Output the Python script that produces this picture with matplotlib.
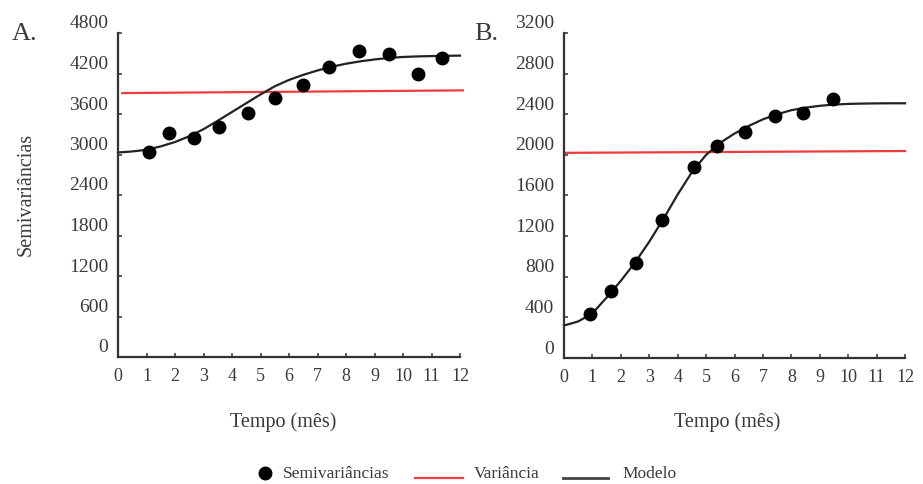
import matplotlib
matplotlib.use("Agg")
import matplotlib.pyplot as plt
import matplotlib.transforms as mtransforms
from matplotlib.lines import Line2D

plt.rcParams['font.family'] = ['Liberation Serif', 'DejaVu Serif']

TXT = '#3a3a3a'
AXC = '#333333'
RED = '#ee3b3b'

# --- data ---
meses_a = [1.08, 1.78, 2.65, 3.54, 4.57, 5.50, 6.50, 7.41, 8.47, 9.52, 10.52, 11.36]
semivar_a = [3030, 3320, 3250, 3410, 3610, 3835, 4035, 4290, 4540, 4490, 4200, 4430]
var_a_x = [0.15, 12.1]
var_a_y = [3910, 3950]

meses_b = [0.93, 1.67, 2.55, 3.44, 4.57, 5.39, 6.38, 7.41, 8.40, 9.47]
semivar_b = [430, 663, 938, 1360, 1880, 2088, 2228, 2382, 2408, 2550]
var_b_x = [0.0, 12.0]
var_b_y = [2020, 2038]

# model curves, read every half month
modelo_x = [0, 0.5, 1, 1.5, 2, 2.5, 3, 3.5, 4, 4.5, 5, 5.5, 6,
            6.5, 7, 7.5, 8, 8.5, 9, 9.5, 10, 10.5, 11, 11.5, 12]
modelo_a = [3030, 3045, 3070, 3120, 3185, 3270, 3375, 3500, 3630, 3760, 3890, 4010, 4105,
            4180, 4245, 4300, 4345, 4380, 4408, 4430, 4445, 4453, 4458, 4462, 4465]
modelo_b = [320, 360, 440, 595, 760, 940, 1145, 1370, 1610, 1830, 2000, 2120, 2210,
            2285, 2350, 2400, 2440, 2465, 2483, 2495, 2502, 2505, 2507, 2508, 2508]

yticks_a = [0, 600, 1200, 1800, 2400, 3000, 3600, 4200, 4800]
yticks_b = [0, 400, 800, 1200, 1600, 2000, 2400, 2800, 3200]
xticks = list(range(0, 13))

W, H = 923, 484
fig = plt.figure(figsize=(W / 100, H / 100), dpi=100)


def fx(px):
    return px / W


def fy(py):
    return 1 - py / H


def make_ax(x0, ppu, ybot, ytop, ymax):
    ax = fig.add_axes([fx(x0), fy(ybot), ppu * 12.2 / W, (ybot - ytop) / H])
    ax.set_xlim(0, 12.2)
    ax.set_ylim(0, ymax)
    for s in ['top', 'right']:
        ax.spines[s].set_visible(False)
    for s in ['left', 'bottom']:
        ax.spines[s].set_color(AXC)
        ax.spines[s].set_linewidth(1.6)
    ax.spines['bottom'].set_bounds(0, 12)
    ax.tick_params(direction='in', length=3, width=1.1, color=AXC, labelcolor=TXT)
    ax.tick_params(axis='x', pad=8, labelsize=13)
    ax.tick_params(axis='y', pad=7, labelsize=14)
    ax.set_xticks(xticks)
    return ax


def draw(ax, mx, sv, vx, vy, yt):
    ax.plot(modelo_x, mx, color='#222222', lw=1.6, zorder=2, clip_on=False,
            solid_joinstyle='round')
    ax.plot(vx, vy, color=RED, lw=1.6, zorder=1, clip_on=False)
    ax.plot(sv[0], sv[1], 'o', color='black', ms=9, zorder=3, clip_on=False)
    ax.set_yticks(yt)
    # the reference prints the y labels a little above their ticks
    off = mtransforms.ScaledTranslation(0, 11 / 100, fig.dpi_scale_trans)
    for lab in ax.get_yticklabels():
        lab.set_transform(lab.get_transform() + off)


ax1 = make_ax(118, 28.5, 357, 33, 4800)
draw(ax1, modelo_a, (meses_a, semivar_a), var_a_x, var_a_y, yticks_a)

ax2 = make_ax(564, 28.42, 358, 33, 3200)
draw(ax2, modelo_b, (meses_b, semivar_b), var_b_x, var_b_y, yticks_b)

# panel letters and axis titles
fig.text(fx(25), fy(34), 'A.', fontsize=19, color=TXT, ha='center', va='center')
fig.text(fx(486), fy(34), 'B.', fontsize=19, color=TXT, ha='center', va='center')
fig.text(fx(26), fy(194), 'Semivariâncias', fontsize=14.5, color=TXT,
         rotation=90, ha='center', va='center')
fig.text(fx(283.5), fy(422), 'Tempo (mês)', fontsize=14.5, color=TXT, ha='center', va='center')
fig.text(fx(727), fy(422), 'Tempo (mês)', fontsize=14.5, color=TXT, ha='center', va='center')

# legend
fig.add_artist(Line2D([fx(265)], [fy(473)], marker='o', color='black', ms=9,
                      transform=fig.transFigure))
fig.text(fx(283), fy(474), 'Semivariâncias', fontsize=12.5, color=TXT, va='center')
fig.add_artist(Line2D([fx(415), fx(463)], [fy(477.5), fy(477.5)], color=RED, lw=1.6,
                      transform=fig.transFigure))
fig.text(fx(474), fy(474), 'Variância', fontsize=12.5, color=TXT, va='center')
fig.add_artist(Line2D([fx(563), fx(608)], [fy(477.5), fy(477.5)], color='#444444', lw=2,
                      transform=fig.transFigure))
fig.text(fx(622), fy(474), 'Modelo', fontsize=12.5, color=TXT, va='center')

fig.savefig('out.png', dpi=100)
